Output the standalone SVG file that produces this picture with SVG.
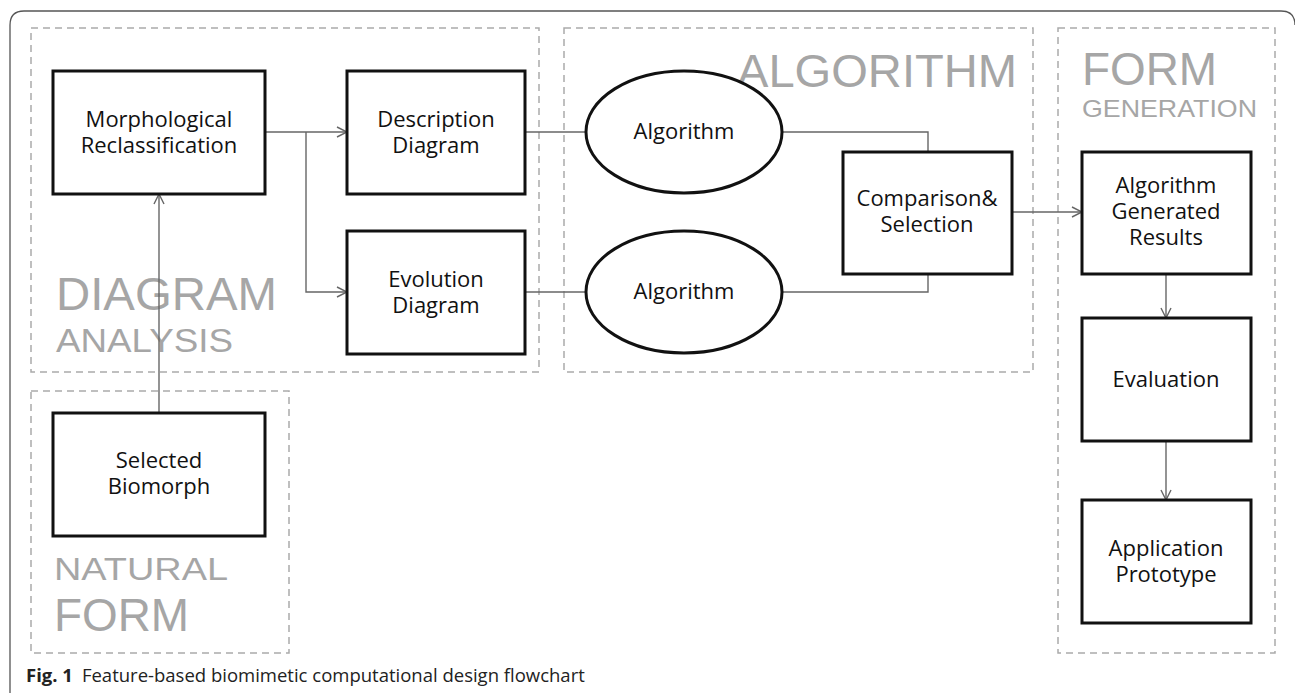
<svg xmlns="http://www.w3.org/2000/svg" width="1295" height="693" viewBox="0 0 1295 693">
<defs>
<style>
.frame{fill:none;stroke:#555;stroke-width:1.3}
.zone{fill:none;stroke:#aaa;stroke-width:1.5;stroke-dasharray:7 5}
.node{fill:#fff;stroke:#111;stroke-width:3}
.lbl{font-family:"Open Sans","Noto Sans",sans-serif;font-size:22px;fill:#111;text-anchor:middle}
.big{font-family:"Liberation Sans",Arial,sans-serif;fill:#a6a6a6}
.conn{fill:none;stroke:#666;stroke-width:1.4}
.cap{font-family:"Open Sans","Noto Sans",sans-serif;font-size:18.5px;fill:#222}
</style>
<marker id="arr" viewBox="0 0 12 12" refX="11" refY="6" markerWidth="12" markerHeight="12" markerUnits="userSpaceOnUse" orient="auto">
<path d="M1,1 L11,6 L1,11" fill="none" stroke="#666" stroke-width="1.4"/>
</marker>
</defs>
<rect width="1295" height="693" fill="#fff"/>
<path class="frame" d="M10,693 V25 Q10,11 24,11 H1281 Q1295,11 1295,25"/>

<g id="zones">
<rect class="zone" x="31" y="28" width="508" height="344"/>
<rect class="zone" x="564" y="28" width="469" height="344"/>
<rect class="zone" x="1058" y="28" width="217" height="625"/>
<rect class="zone" x="31" y="391" width="258" height="262"/>
<text class="big" x="56" y="310" font-size="46" textLength="221" lengthAdjust="spacingAndGlyphs">DIAGRAM</text>
<text class="big" x="56" y="352" font-size="33" textLength="177" lengthAdjust="spacingAndGlyphs">ANALYSIS</text>
<text class="big" x="737" y="87" font-size="47" textLength="280" lengthAdjust="spacingAndGlyphs">ALGORITHM</text>
<text class="big" x="1082" y="85" font-size="46" textLength="135" lengthAdjust="spacingAndGlyphs">FORM</text>
<text class="big" x="1082" y="117" font-size="24" textLength="175" lengthAdjust="spacingAndGlyphs">GENERATION</text>
<text class="big" x="54" y="580" font-size="32" textLength="174" lengthAdjust="spacingAndGlyphs">NATURAL</text>
<text class="big" x="54" y="631" font-size="46" textLength="135" lengthAdjust="spacingAndGlyphs">FORM</text>
</g>

<g id="connectors">
<path class="conn" d="M159,413 V194" marker-end="url(#arr)"/>
<path class="conn" d="M265,132 H347" marker-end="url(#arr)"/>
<path class="conn" d="M306,132 V292 H347" marker-end="url(#arr)"/>
<path class="conn" d="M525,132 H585"/>
<path class="conn" d="M525,292 H585"/>
<path class="conn" d="M782,132 H928 V152"/>
<path class="conn" d="M782,292 H928 V274"/>
<path class="conn" d="M1012,212 H1082" marker-end="url(#arr)"/>
<path class="conn" d="M1166,274 V318" marker-end="url(#arr)"/>
<path class="conn" d="M1166,441 V500" marker-end="url(#arr)"/>
</g>

<g id="morph">
<rect class="node" x="53" y="71" width="212" height="123"/>
<text class="lbl"><tspan x="159" y="127">Morphological</tspan><tspan x="159" y="153">Reclassification</tspan></text>
</g>
<g id="description">
<rect class="node" x="347" y="71" width="178" height="123"/>
<text class="lbl"><tspan x="436" y="127">Description</tspan><tspan x="436" y="153">Diagram</tspan></text>
</g>
<g id="evolution">
<rect class="node" x="347" y="231" width="178" height="123"/>
<text class="lbl"><tspan x="436" y="287">Evolution</tspan><tspan x="436" y="313">Diagram</tspan></text>
</g>
<g id="algorithm1">
<ellipse class="node" cx="684" cy="132" rx="98" ry="61"/>
<text class="lbl" x="684" y="139">Algorithm</text>
</g>
<g id="algorithm2">
<ellipse class="node" cx="684" cy="292" rx="98" ry="61"/>
<text class="lbl" x="684" y="299">Algorithm</text>
</g>
<g id="comparison">
<rect class="node" x="843" y="152" width="169" height="122"/>
<text class="lbl"><tspan x="927" y="206">Comparison&amp;</tspan><tspan x="927" y="232">Selection</tspan></text>
</g>
<g id="results">
<rect class="node" x="1082" y="152" width="169" height="122"/>
<text class="lbl"><tspan x="1166" y="193">Algorithm</tspan><tspan x="1166" y="219">Generated</tspan><tspan x="1166" y="245">Results</tspan></text>
</g>
<g id="evaluation">
<rect class="node" x="1082" y="318" width="169" height="123"/>
<text class="lbl" x="1166" y="387">Evaluation</text>
</g>
<g id="prototype">
<rect class="node" x="1082" y="500" width="169" height="123"/>
<text class="lbl"><tspan x="1166" y="556">Application</tspan><tspan x="1166" y="582">Prototype</tspan></text>
</g>
<g id="biomorph">
<rect class="node" x="53" y="413" width="212" height="123"/>
<text class="lbl"><tspan x="159" y="468">Selected</tspan><tspan x="159" y="494">Biomorph</tspan></text>
</g>

<text class="cap" x="26" y="682"><tspan font-weight="bold">Fig. 1</tspan><tspan dx="9">Feature-based biomimetic computational design flowchart</tspan></text>
</svg>
